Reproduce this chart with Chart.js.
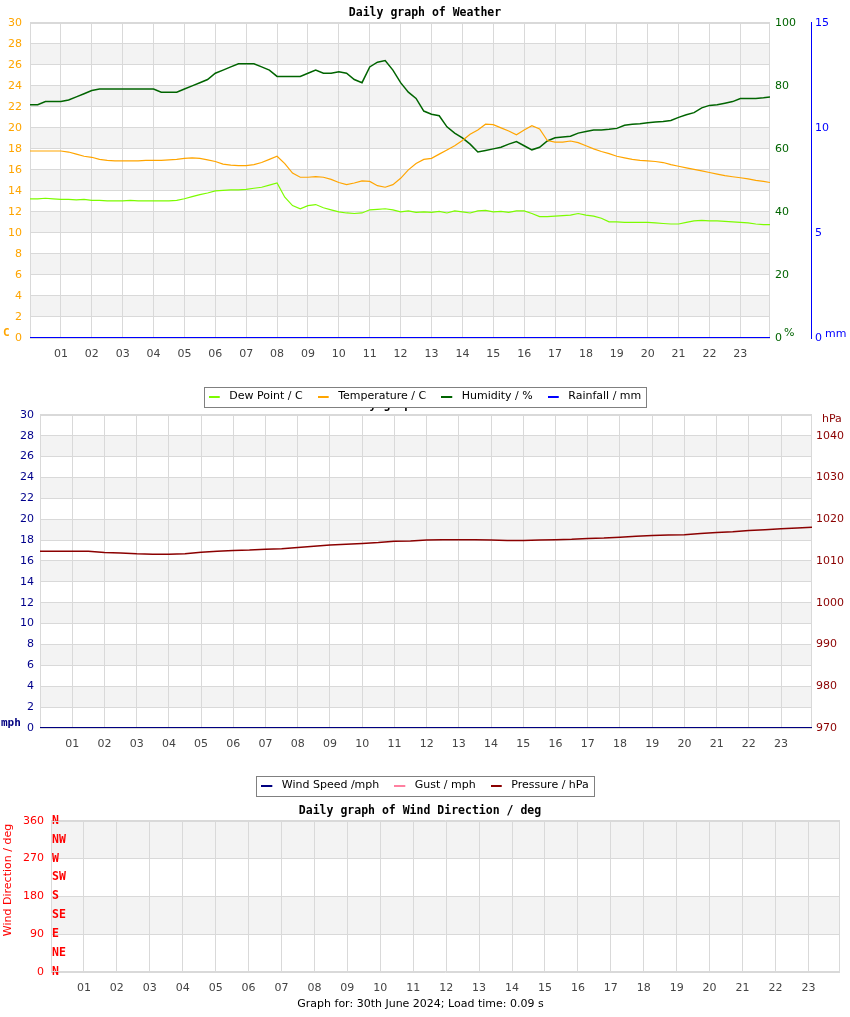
<!DOCTYPE html>
<html>
<head>
<meta charset="utf-8">
<script src="https://cdn.jsdelivr.net/npm/chart.js@4.4.1/dist/chart.umd.min.js"></script>
<style>
  html, body { margin: 0; padding: 0; background: #fff; }
  #wrap { position: relative; width: 850px; height: 1017px; overflow: hidden; }
  canvas { position: absolute; left: 0; }
  #c-weather { top: 0; z-index: 3; }
  #c-wind { top: 392px; z-index: 2; }
  #c-dir { top: 798px; z-index: 1; }
  #footer { position: absolute; left: 0; width: 841px; top: 997px; text-align: center;
            font: 11px "DejaVu Sans", sans-serif; color: #000; z-index: 4; }
</style>
</head>
<body>
<div id="wrap">
  <canvas id="c-weather" width="850" height="412"></canvas>
  <canvas id="c-wind" width="850" height="409"></canvas>
  <canvas id="c-dir" width="850" height="204"></canvas>
  <div id="footer">Graph for: 30th June 2024; Load time: 0.09 s</div>
</div>
<script>
// sample times (hours of the day)
const quarterHours = [
  0, 0.25, 0.5, 0.75, 1, 1.25, 1.5, 1.75, 2, 2.25, 2.5, 2.75,
  3, 3.25, 3.5, 3.75, 4, 4.25, 4.5, 4.75, 5, 5.25, 5.5, 5.75,
  6, 6.25, 6.5, 6.75, 7, 7.25, 7.5, 7.75, 8, 8.25, 8.5, 8.75,
  9, 9.25, 9.5, 9.75, 10, 10.25, 10.5, 10.75, 11, 11.25, 11.5, 11.75,
  12, 12.25, 12.5, 12.75, 13, 13.25, 13.5, 13.75, 14, 14.25, 14.5, 14.75,
  15, 15.25, 15.5, 15.75, 16, 16.25, 16.5, 16.75, 17, 17.25, 17.5, 17.75,
  18, 18.25, 18.5, 18.75, 19, 19.25, 19.5, 19.75, 20, 20.25, 20.5, 20.75,
  21, 21.25, 21.5, 21.75, 22, 22.25, 22.5, 22.75, 23, 23.25, 23.5, 23.75, 23.96
];
const halfHours = [
  0, 0.5, 1, 1.5, 2, 2.5, 3, 3.5, 4, 4.5, 5, 5.5, 6, 6.5, 7, 7.5,
  8, 8.5, 9, 9.5, 10, 10.5, 11, 11.5, 12, 12.5, 13, 13.5, 14, 14.5, 15, 15.5,
  16, 16.5, 17, 17.5, 18, 18.5, 19, 19.5, 20, 20.5, 21, 21.5, 22, 22.5, 23, 23.5, 23.96
];
const dayBounds = [0, 23.96];

// top graph
const temperature = [
  17.8, 17.8, 17.8, 17.8, 17.8, 17.7, 17.5, 17.3, 17.2, 17.0, 16.9, 16.85,
  16.85, 16.85, 16.85, 16.9, 16.9, 16.9, 16.95, 17.0, 17.1, 17.15, 17.1, 16.95,
  16.8, 16.55, 16.45, 16.4, 16.4, 16.5, 16.7, 17.0, 17.3, 16.6, 15.7, 15.3,
  15.3, 15.35, 15.3, 15.1, 14.8, 14.6, 14.75, 14.95, 14.9, 14.5, 14.35, 14.6,
  15.2, 16.0, 16.6, 17.0, 17.1, 17.5, 17.9, 18.3, 18.8, 19.4, 19.8, 20.35,
  20.3, 20.0, 19.7, 19.35, 19.8, 20.2, 19.9, 18.8, 18.65, 18.65, 18.75, 18.6,
  18.3, 18.0, 17.75, 17.55, 17.3, 17.15, 17.0, 16.9, 16.85, 16.8, 16.7, 16.5,
  16.35, 16.2, 16.05, 15.9, 15.75, 15.6, 15.45, 15.35, 15.25, 15.15, 15.0, 14.9, 14.8
];
const dewPoint = [
  13.25, 13.25, 13.3, 13.25, 13.2, 13.2, 13.15, 13.2, 13.1, 13.1, 13.05, 13.05,
  13.05, 13.1, 13.05, 13.05, 13.05, 13.05, 13.05, 13.1, 13.25, 13.45, 13.65, 13.8,
  14.0, 14.05, 14.1, 14.1, 14.15, 14.25, 14.35, 14.55, 14.75, 13.4, 12.6, 12.3,
  12.6, 12.7, 12.4, 12.2, 12.0, 11.9, 11.85, 11.9, 12.2, 12.25, 12.3, 12.2,
  12.0, 12.1, 11.95, 12.0, 11.95, 12.05, 11.9, 12.1, 12.0, 11.9, 12.1, 12.15,
  12.0, 12.05, 11.95, 12.1, 12.1, 11.85, 11.55, 11.55, 11.6, 11.65, 11.7, 11.85,
  11.7, 11.6, 11.4, 11.05, 11.05, 11.0, 11.0, 11.0, 11.0, 10.95, 10.9, 10.85,
  10.85, 11.0, 11.15, 11.2, 11.15, 11.15, 11.1, 11.05, 11.0, 10.95, 10.85, 10.8, 10.8
];
const humidity = [
  74, 74, 75, 75, 75, 75.5, 76.5, 77.5, 78.5, 79, 79, 79,
  79, 79, 79, 79, 79, 78, 78, 78, 79, 80, 81, 82,
  84, 85, 86, 87, 87, 87, 86, 85, 83, 83, 83, 83,
  84, 85, 84, 84, 84.5, 84, 82, 81, 86, 87.5, 88, 85,
  81, 78, 76, 72, 71, 70.5, 67, 65, 63.5, 61.5, 59, 59.5,
  60, 60.5, 61.5, 62.3, 61, 59.7, 60.5, 62.5, 63.5, 63.8, 64, 65,
  65.5, 66, 66, 66.2, 66.5, 67.5, 67.8, 68, 68.3, 68.5, 68.7, 69,
  70, 70.8, 71.5, 73, 73.8, 74, 74.5, 75, 76, 76, 76, 76.2, 76.5
];
const rainfall = [0, 0];

// middle graph
const windSpeed = [0, 0];
const windGust = [0, 0];
const pressure = [
  1012.3, 1012.3, 1012.3, 1012.3, 1012.0, 1011.9, 1011.7, 1011.6, 1011.6, 1011.7,
  1012.1, 1012.3, 1012.5, 1012.6, 1012.8, 1012.9, 1013.2, 1013.5, 1013.8, 1014.0,
  1014.2, 1014.4, 1014.7, 1014.8, 1015.0, 1015.1, 1015.1, 1015.1, 1015.0, 1014.9,
  1014.9, 1015.0, 1015.1, 1015.2, 1015.4, 1015.5, 1015.7, 1015.9, 1016.1, 1016.2,
  1016.3, 1016.6, 1016.8, 1017.0, 1017.3, 1017.5, 1017.7, 1017.9, 1018.1
];

// bottom graph (no readings that day)
const windDirection = [];
const compassPoints = ['N', 'NE', 'E', 'SE', 'S', 'SW', 'W', 'NW', 'N'];

Chart.defaults.font.family = '"DejaVu Sans", sans-serif';
Chart.defaults.font.size = 11;
Chart.defaults.color = '#444';

const GRID = '#d9d9d9';
const BAND = '#f3f3f3';
const monoBold = { family: '"DejaVu Sans Mono", monospace', size: 11.5, weight: 'bold' };

// alternating grey bands behind the grid
const bandsPlugin = {
  id: 'bands',
  beforeDraw(chart, args, opts) {
    const s = chart.scales[opts.axis];
    if (!s) return;
    const { left, right } = chart.chartArea;
    const ctx = chart.ctx;
    ctx.save();
    ctx.fillStyle = BAND;
    for (let v = s.min; v < s.max; v += opts.step) {
      if (Math.round(v / opts.step) % 2 === 1) {
        const y1 = s.getPixelForValue(v);
        const y2 = s.getPixelForValue(Math.min(v + opts.step, s.max));
        ctx.fillRect(left, y2, right - left, y1 - y2);
      }
    }
    ctx.restore();
  }
};

// outline of the plot area
const framePlugin = {
  id: 'frame',
  beforeDatasetsDraw(chart) {
    const { left, top, right, bottom } = chart.chartArea;
    const ctx = chart.ctx;
    ctx.save();
    ctx.strokeStyle = GRID;
    ctx.lineWidth = 1;
    ctx.strokeRect(Math.round(left) + 0.5, Math.round(top) + 0.5,
      Math.round(right - left) - 1, Math.round(bottom - top) - 1);
    ctx.restore();
  }
};

// white box with a grey border round the legend
const legendBoxPlugin = {
  id: 'legendBox',
  beforeDraw(chart) {
    const lg = chart.legend;
    if (!lg || !lg.options.display || !lg.legendHitBoxes || !lg.legendHitBoxes.length) return;
    const boxes = lg.legendHitBoxes;
    const l = Math.round(Math.min(...boxes.map(b => b.left)) - 5);
    const r = Math.round(Math.max(...boxes.map(b => b.left + b.width)) + 5);
    const cy = Math.round(boxes[0].top + boxes[0].height / 2);
    const ctx = chart.ctx;
    ctx.save();
    ctx.fillStyle = '#fff';
    ctx.fillRect(l, cy - 10, r - l, 20);
    ctx.strokeStyle = '#808080';
    ctx.lineWidth = 1;
    ctx.strokeRect(l + 0.5, cy - 10 + 0.5, r - l, 20);
    ctx.restore();
  }
};

// unit captions next to the axes
const unitsPlugin = {
  id: 'units',
  afterDraw(chart, args, opts) {
    const ctx = chart.ctx;
    (opts.items || []).forEach(it => {
      ctx.save();
      ctx.fillStyle = it.color;
      ctx.font = it.font;
      ctx.textBaseline = 'middle';
      ctx.textAlign = it.align || 'left';
      ctx.translate(it.x, it.y);
      if (it.rotate) ctx.rotate(it.rotate * Math.PI / 180);
      ctx.fillText(it.text, 0, 0);
      ctx.restore();
    });
  }
};

function legendMark(color) {
  const c = document.createElement('canvas');
  c.width = 15;
  c.height = 3;
  const g = c.getContext('2d');
  g.fillStyle = color;
  g.fillRect(0, 1, 11, 2);
  return c;
}

function points(xs, ys) {
  return xs.map((x, i) => ({ x, y: ys[i] }));
}

function lineSet(label, xs, ys, color, width, axis) {
  return {
    label,
    data: points(xs, ys),
    borderColor: color,
    backgroundColor: color,
    borderWidth: width,
    pointRadius: 0,
    pointStyle: legendMark(color),
    tension: 0,
    yAxisID: axis
  };
}

function hourAxis(height) {
  return {
    type: 'linear',
    min: 0,
    max: 23.96,
    afterFit(s) { s.height = height; },
    ticks: {
      stepSize: 1,
      includeBounds: false,
      autoSkip: false,
      maxRotation: 0,
      padding: 10,
      color: '#444',
      callback: v => v === 0 ? '' : String(v).padStart(2, '0')
    },
    grid: { color: GRID, drawTicks: false },
    border: { display: false }
  };
}

function valueAxis(position, min, max, step, color, width, padding, grid) {
  return {
    position,
    min,
    max,
    afterFit(s) { s.width = width; },
    ticks: {
      stepSize: step,
      includeBounds: false,
      autoSkip: false,
      color,
      padding,
      callback: v => String(v)
    },
    grid: { display: grid, color: GRID, drawTicks: false },
    border: { display: false }
  };
}

function baseOptions(title, legendOn) {
  return {
    responsive: false,
    animation: false,
    devicePixelRatio: 1,
    events: [],
    plugins: {
      title: {
        display: true,
        text: title,
        color: '#000',
        font: monoBold,
        padding: { top: 6, bottom: 3 }
      },
      legend: {
        display: legendOn,
        position: 'bottom',
        labels: {
          usePointStyle: true,
          pointStyleWidth: 15,
          padding: 15,
          color: '#000',
          font: { size: 11 }
        }
      },
      tooltip: { enabled: false }
    }
  };
}

const plugins = [bandsPlugin, framePlugin, legendBoxPlugin, unitsPlugin];

// ---- Weather ----
const optWeather = baseOptions('Daily graph of Weather', true);
optWeather.scales = {
  x: hourAxis(38),
  yT: valueAxis('left', 0, 30, 2, '#FFA500', 30, 8, true),
  yH: valueAxis('right', 0, 100, 20, '#006400', 41, 5, false),
  yR: valueAxis('right', 0, 15, 5, '#0000FF', 39, 4, false)
};
optWeather.scales.yR.border = { display: true, color: '#0000FF', width: 1 };
optWeather.plugins.bands = { axis: 'yT', step: 2 };
optWeather.plugins.units = { items: [
  { text: 'C', x: 3, y: 333, color: '#FFA500', font: 'bold 11px "DejaVu Sans Mono"' },
  { text: '%', x: 784, y: 333, color: '#006400', font: '11px "DejaVu Sans"' },
  { text: 'mm', x: 825, y: 334, color: '#0000FF', font: '11px "DejaVu Sans"' }
] };

new Chart(document.getElementById('c-weather'), {
  type: 'line',
  data: {
    datasets: [
      lineSet('Dew Point / C', quarterHours, dewPoint, '#7CFC00', 1.2, 'yT'),
      lineSet('Temperature / C', quarterHours, temperature, '#FFA500', 1.2, 'yT'),
      lineSet('Humidity / %', quarterHours, humidity, '#006400', 1.5, 'yH'),
      lineSet('Rainfall / mm', dayBounds, rainfall, '#0000FF', 2, 'yR')
    ]
  },
  options: optWeather,
  plugins
});

// ---- Wind speed and pressure ----
const optWind = baseOptions('Daily graph of Barometer', true);
optWind.scales = {
  x: hourAxis(37),
  yW: valueAxis('left', 0, 30, 2, '#00008B', 40, 6, true),
  yP: valueAxis('right', 970, 1045, 10, '#8B0000', 38, 4, false)
};
optWind.plugins.bands = { axis: 'yW', step: 2 };
optWind.plugins.units = { items: [
  { text: 'mph', x: 1, y: 331.5, color: '#000080', font: 'bold 11px "DejaVu Sans Mono"' },
  { text: 'hPa', x: 822, y: 27, color: '#8B0000', font: '11px "DejaVu Sans"' }
] };

new Chart(document.getElementById('c-wind'), {
  type: 'line',
  data: {
    datasets: [
      lineSet('Wind Speed /mph', dayBounds, windSpeed, '#000080', 2, 'yW'),
      lineSet('Gust / mph', dayBounds, windGust, '#FF80A0', 2, 'yW'),
      lineSet('Pressure / hPa', halfHours, pressure, '#8B0000', 1.5, 'yP')
    ]
  },
  options: optWind,
  plugins
});

// ---- Wind direction ----
const optDir = baseOptions('Daily graph of Wind Direction / deg', false);
optDir.layout = { padding: { right: 10 } };
optDir.scales = {
  x: hourAxis(30),
  yC: {
    position: 'left',
    min: 0,
    max: 360,
    afterFit(s) { s.width = 0; },
    ticks: {
      mirror: true,
      stepSize: 45,
      autoSkip: false,
      padding: 1,
      color: '#FF0000',
      font: monoBold,
      callback: v => compassPoints[Math.round(v / 45)]
    },
    grid: { display: false, drawTicks: false },
    border: { display: false }
  },
  yD: valueAxis('left', 0, 360, 90, '#FF0000', 51, 7, true)
};
optDir.plugins.bands = { axis: 'yD', step: 90 };
optDir.plugins.units = { items: [
  { text: 'Wind Direction / deg', x: 8, y: 82, rotate: -90, align: 'center', color: '#FF0000', font: '11px "DejaVu Sans"' }
] };

new Chart(document.getElementById('c-dir'), {
  type: 'line',
  data: {
    datasets: [
      lineSet('Wind Direction / deg', [], windDirection, '#FF0000', 1, 'yD')
    ]
  },
  options: optDir,
  plugins
});
</script>
</body>
</html>
